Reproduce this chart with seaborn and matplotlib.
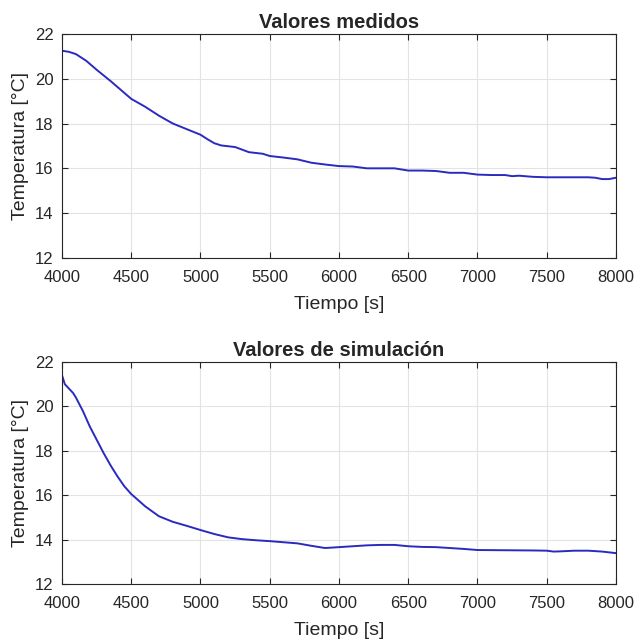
import pandas as pd
import matplotlib
matplotlib.use("Agg")
import matplotlib.pyplot as plt
import seaborn as sns

# Valores medidos (top panel)
tiempo_med = [4000, 4050, 4100, 4175, 4250, 4350, 4500, 4600, 4700, 4800, 4900,
              5000, 5050, 5100, 5150, 5250, 5350, 5450, 5500, 5600, 5700, 5800,
              5900, 6000, 6100, 6200, 6300, 6400, 6500, 6600, 6700, 6800, 6900,
              7000, 7100, 7200, 7250, 7300, 7400, 7500, 7600, 7700, 7800, 7850,
              7900, 7950, 8000]
temp_med = [21.25, 21.2, 21.1, 20.8, 20.4, 19.9, 19.1, 18.75, 18.35, 18.0, 17.75,
            17.5, 17.3, 17.12, 17.02, 16.95, 16.72, 16.65, 16.55, 16.48, 16.4, 16.25,
            16.17, 16.1, 16.08, 16.0, 16.0, 16.0, 15.9, 15.9, 15.88, 15.8, 15.8,
            15.72, 15.7, 15.7, 15.65, 15.67, 15.62, 15.6, 15.6, 15.6, 15.6, 15.58,
            15.52, 15.52, 15.58]

# Valores de simulación (bottom panel)
tiempo_sim = [4000, 4020, 4050, 4080, 4100, 4150, 4200, 4250, 4300, 4350, 4400,
              4450, 4500, 4600, 4700, 4800, 4900, 5000, 5100, 5200, 5300, 5400,
              5500, 5600, 5700, 5800, 5900, 6000, 6100, 6200, 6300, 6400, 6500,
              6600, 6700, 6800, 6900, 7000, 7200, 7400, 7500, 7550, 7600, 7700,
              7800, 7900, 8000]
temp_sim = [21.4, 21.0, 20.8, 20.6, 20.4, 19.8, 19.1, 18.5, 17.9, 17.35, 16.85,
            16.4, 16.05, 15.5, 15.05, 14.8, 14.62, 14.43, 14.25, 14.1, 14.02, 13.97,
            13.93, 13.88, 13.83, 13.72, 13.62, 13.66, 13.7, 13.74, 13.76, 13.76, 13.7,
            13.67, 13.66, 13.62, 13.58, 13.53, 13.52, 13.51, 13.5, 13.46, 13.47, 13.5,
            13.5, 13.46, 13.39]

sns.set_theme(style='whitegrid', rc={
    'axes.edgecolor': '#262626',
    'axes.linewidth': 0.8,
    'grid.color': '#e3e3e3',
    'grid.linewidth': 0.8,
    'xtick.direction': 'in',
    'ytick.direction': 'in',
    'xtick.top': True,
    'ytick.right': True,
    'xtick.bottom': True,
    'ytick.left': True,
    'xtick.major.size': 4,
    'ytick.major.size': 4,
    'xtick.major.width': 0.8,
    'ytick.major.width': 0.8,
    'xtick.color': '#262626',
    'ytick.color': '#262626',
    'text.color': '#262626',
    'axes.labelcolor': '#262626',
})
plt.rcParams['font.family'] = ['Liberation Sans', 'DejaVu Sans']

fig = plt.figure(figsize=(6.36, 6.4), dpi=100)
ax1 = fig.add_axes([0.0975, 0.597, 0.871, 0.35])
ax2 = fig.add_axes([0.0975, 0.0875, 0.871, 0.347])

df_med = pd.DataFrame({'Tiempo [s]': tiempo_med, 'Temperatura [°C]': temp_med})
df_sim = pd.DataFrame({'Tiempo [s]': tiempo_sim, 'Temperatura [°C]': temp_sim})

for ax, df, title in [(ax1, df_med, 'Valores medidos'),
                      (ax2, df_sim, 'Valores de simulación')]:
    sns.lineplot(ax=ax, data=df, x='Tiempo [s]', y='Temperatura [°C]',
                 color='#2a2ac0', lw=1.4)
    ax.set_xlim(4000, 8000)
    ax.set_ylim(12, 22)
    ax.set_xticks(range(4000, 8001, 500))
    ax.set_yticks(range(12, 23, 2))
    ax.tick_params(labelsize=12)
    ax.tick_params(axis='x', pad=8.5)
    ax.tick_params(axis='y', pad=6)
    ax.set_xlabel('Tiempo [s]', fontsize=14, labelpad=8)
    ax.set_ylabel('Temperatura [°C]', fontsize=14, labelpad=4)
    ax.set_title(title, fontsize=14.5, fontweight='bold', pad=4)
    for s in ax.spines.values():
        s.set_visible(True)
        s.set_color('#262626')

fig.savefig('out.png', dpi=100, facecolor='white')
